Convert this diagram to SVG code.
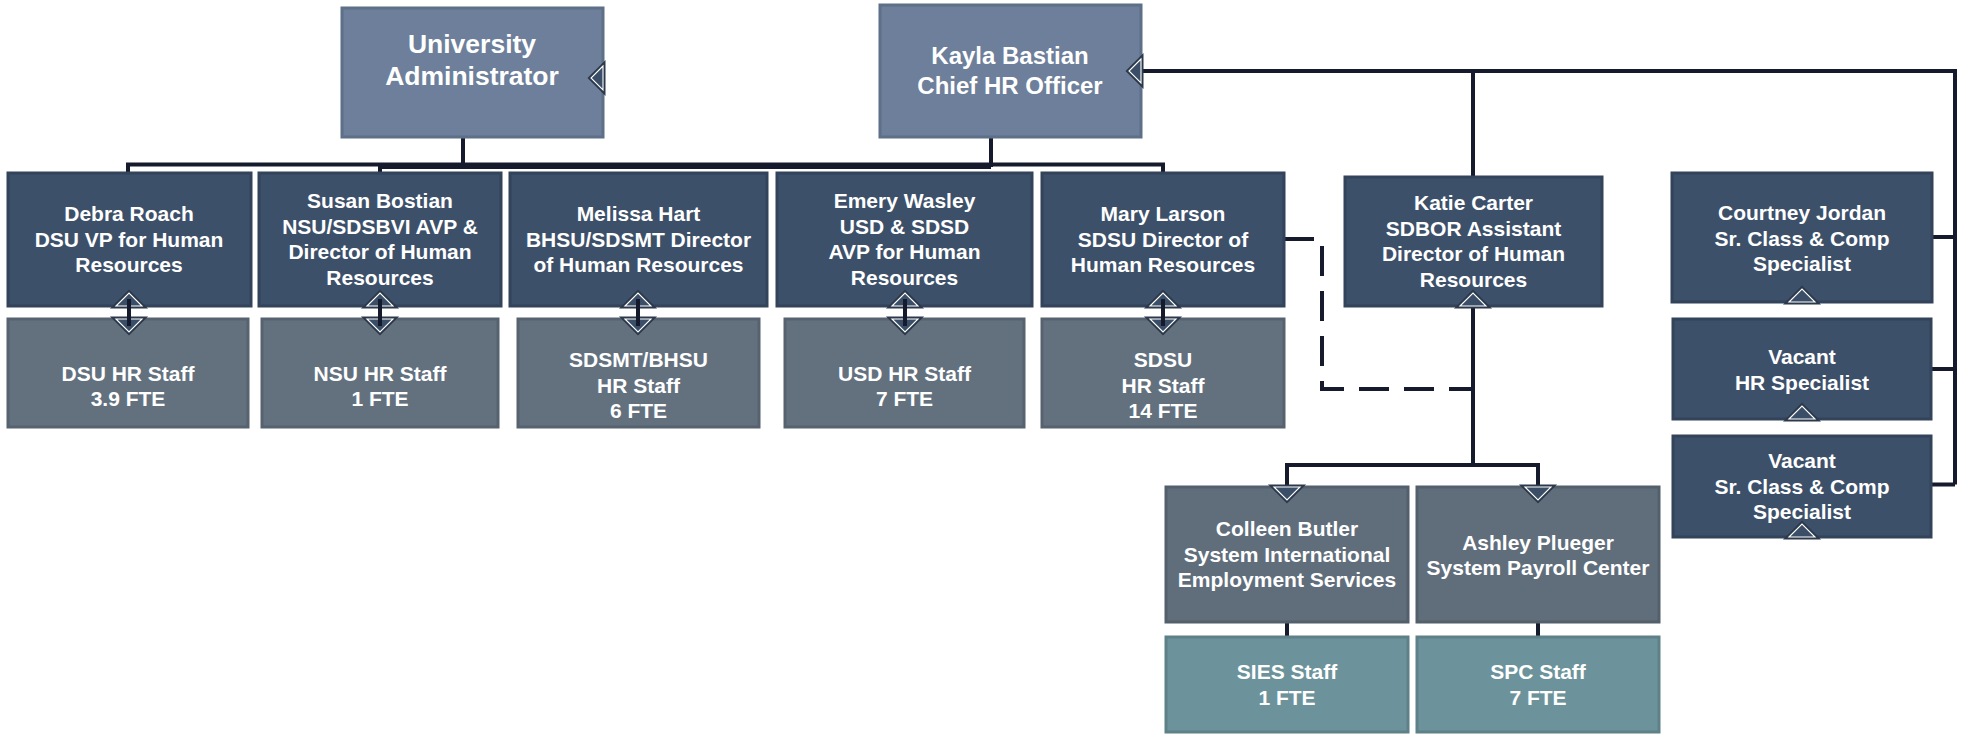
<svg xmlns="http://www.w3.org/2000/svg" width="1965" height="734" viewBox="0 0 1965 734">
<style>
.top{fill:#6D7F9A;stroke:#5E6F88;stroke-width:3}
.mid{fill:#3D506A;stroke:#33435A;stroke-width:3}
.staff{fill:#63717F;stroke:#56626F;stroke-width:3}
.sys{fill:#606E7C;stroke:#535F6B;stroke-width:3}
.teal{fill:#6C939B;stroke:#5E8088;stroke-width:3}
text{font-family:"Liberation Sans",Arial,sans-serif;font-weight:bold;fill:#FFFFFF;text-anchor:middle}
.t26{font-size:26.5px}
.t24{font-size:24px}
.t21{font-size:21px}
.ln{fill:none;stroke:#151B2C;stroke-width:4}
.dash{fill:none;stroke:#151B2C;stroke-width:4;stroke-dasharray:30 15}
.tri{fill:#3B4E68;stroke:#FFFFFF;stroke-width:1.1;stroke-linejoin:miter}
.halo{fill:#2C394C;stroke:#2C394C;stroke-width:5}
</style>
<defs>
<polygon id="up" points="-13,0 0,-13 13,0"/>
<polygon id="down" points="-13,0 0,13 13,0"/>
<polygon id="left" points="0,-12 -12,0 0,12"/>
</defs>

<g id="connectors">
<path class="ln" d="M463,137 V164.5 M128,173 V164.5 H1163 V173"/>
<path class="ln" d="M991,137 V167 M380,173 V167 H991"/>
<path class="ln" d="M1141,71 H1955 V484.5 M1473,71 V177 M1932,237 H1955 M1932,369 H1955 M1932,484.5 H1955"/>
<path class="ln" d="M1473,306 V465 M1287,487 V465 H1538 V487"/>
<path class="ln" d="M1287,622 V637 M1538,622 V637"/>
<path class="dash" d="M1284,239 H1322 V389 H1473"/>
</g>

<g id="univ-admin">
<rect class="top" x="342" y="8" width="261" height="129"/>
<use href="#left" x="603" y="78" class="halo"/>
<use href="#left" x="603" y="78" class="tri"/>
<text class="t26"><tspan x="472" y="53">University</tspan><tspan x="472" y="85">Administrator</tspan></text>
</g>

<g id="kayla-bastian">
<rect class="top" x="880" y="5" width="261" height="132"/>
<use href="#left" x="1141" y="71" class="halo"/>
<use href="#left" x="1141" y="71" class="tri"/>
<text class="t24"><tspan x="1010" y="64">Kayla Bastian</tspan><tspan x="1010" y="94">Chief HR Officer</tspan></text>
</g>

<g id="debra-roach">
<rect class="mid" x="8" y="173" width="243" height="133"/>
<use href="#up" x="129" y="306" class="halo"/><use href="#up" x="129" y="306" class="tri"/>
<text class="t21"><tspan x="129" y="221">Debra Roach</tspan><tspan x="129" y="246.5">DSU VP for Human</tspan><tspan x="129" y="272">Resources</tspan></text>
</g>

<g id="susan-bostian">
<rect class="mid" x="259" y="173" width="242" height="133"/>
<use href="#up" x="380" y="306" class="halo"/><use href="#up" x="380" y="306" class="tri"/>
<text class="t21"><tspan x="380" y="208">Susan Bostian</tspan><tspan x="380" y="233.5">NSU/SDSBVI AVP &amp;</tspan><tspan x="380" y="259">Director of Human</tspan><tspan x="380" y="284.5">Resources</tspan></text>
</g>

<g id="melissa-hart">
<rect class="mid" x="510" y="173" width="257" height="133"/>
<use href="#up" x="638" y="306" class="halo"/><use href="#up" x="638" y="306" class="tri"/>
<text class="t21"><tspan x="638.5" y="221">Melissa Hart</tspan><tspan x="638.5" y="246.5">BHSU/SDSMT Director</tspan><tspan x="638.5" y="272">of Human Resources</tspan></text>
</g>

<g id="emery-wasley">
<rect class="mid" x="777" y="173" width="255" height="133"/>
<use href="#up" x="905" y="306" class="halo"/><use href="#up" x="905" y="306" class="tri"/>
<text class="t21"><tspan x="904.5" y="208">Emery Wasley</tspan><tspan x="904.5" y="233.5">USD &amp; SDSD</tspan><tspan x="904.5" y="259">AVP for Human</tspan><tspan x="904.5" y="284.5">Resources</tspan></text>
</g>

<g id="mary-larson">
<rect class="mid" x="1042" y="173" width="242" height="133"/>
<use href="#up" x="1163" y="306" class="halo"/><use href="#up" x="1163" y="306" class="tri"/>
<text class="t21"><tspan x="1163" y="221">Mary Larson</tspan><tspan x="1163" y="246.5">SDSU Director of</tspan><tspan x="1163" y="272">Human Resources</tspan></text>
</g>

<g id="dsu-staff">
<rect class="staff" x="8" y="319" width="240" height="108"/>
<use href="#down" x="129" y="319" class="halo"/><use href="#down" x="129" y="319" class="tri"/>
<text class="t21"><tspan x="128" y="380.5">DSU HR Staff</tspan><tspan x="128" y="406">3.9 FTE</tspan></text>
</g>

<g id="nsu-staff">
<rect class="staff" x="262" y="319" width="236" height="108"/>
<use href="#down" x="380" y="319" class="halo"/><use href="#down" x="380" y="319" class="tri"/>
<text class="t21"><tspan x="380" y="380.5">NSU HR Staff</tspan><tspan x="380" y="406">1 FTE</tspan></text>
</g>

<g id="sdsmt-staff">
<rect class="staff" x="518" y="319" width="241" height="108"/>
<use href="#down" x="638" y="319" class="halo"/><use href="#down" x="638" y="319" class="tri"/>
<text class="t21"><tspan x="638.5" y="367">SDSMT/BHSU</tspan><tspan x="638.5" y="392.5">HR Staff</tspan><tspan x="638.5" y="418">6 FTE</tspan></text>
</g>

<g id="usd-staff">
<rect class="staff" x="785" y="319" width="239" height="108"/>
<use href="#down" x="905" y="319" class="halo"/><use href="#down" x="905" y="319" class="tri"/>
<text class="t21"><tspan x="904.5" y="380.5">USD HR Staff</tspan><tspan x="904.5" y="406">7 FTE</tspan></text>
</g>

<g id="sdsu-staff">
<rect class="staff" x="1042" y="319" width="242" height="108"/>
<use href="#down" x="1163" y="319" class="halo"/><use href="#down" x="1163" y="319" class="tri"/>
<text class="t21"><tspan x="1163" y="367">SDSU</tspan><tspan x="1163" y="392.5">HR Staff</tspan><tspan x="1163" y="418">14 FTE</tspan></text>
</g>

<g id="staff-links">
<path class="ln" d="M129,299 V326 M380,299 V326 M638,299 V326 M905,299 V326 M1163,299 V326"/>
</g>

<g id="katie-carter">
<rect class="mid" x="1345" y="177" width="257" height="129"/>
<use href="#up" x="1473" y="306" class="halo"/><use href="#up" x="1473" y="306" class="tri"/>
<text class="t21"><tspan x="1473.5" y="210">Katie Carter</tspan><tspan x="1473.5" y="235.5">SDBOR Assistant</tspan><tspan x="1473.5" y="261">Director of Human</tspan><tspan x="1473.5" y="286.5">Resources</tspan></text>
</g>

<g id="courtney-jordan">
<rect class="mid" x="1672" y="173" width="260" height="129"/>
<use href="#up" x="1802" y="302" class="halo"/><use href="#up" x="1802" y="302" class="tri"/>
<text class="t21"><tspan x="1802" y="220">Courtney Jordan</tspan><tspan x="1802" y="245.5">Sr. Class &amp; Comp</tspan><tspan x="1802" y="271">Specialist</tspan></text>
</g>

<g id="vacant-hr">
<rect class="mid" x="1673" y="319" width="258" height="100"/>
<use href="#up" x="1802" y="419" class="halo"/><use href="#up" x="1802" y="419" class="tri"/>
<text class="t21"><tspan x="1802" y="364">Vacant</tspan><tspan x="1802" y="389.5">HR Specialist</tspan></text>
</g>

<g id="vacant-sr">
<rect class="mid" x="1673" y="436" width="258" height="101"/>
<use href="#up" x="1802" y="537" class="halo"/><use href="#up" x="1802" y="537" class="tri"/>
<text class="t21"><tspan x="1802" y="468">Vacant</tspan><tspan x="1802" y="493.5">Sr. Class &amp; Comp</tspan><tspan x="1802" y="519">Specialist</tspan></text>
</g>

<g id="colleen-butler">
<rect class="sys" x="1166" y="487" width="242" height="135"/>
<use href="#down" x="1287" y="487" class="halo"/><use href="#down" x="1287" y="487" class="tri"/>
<text class="t21"><tspan x="1287" y="536">Colleen Butler</tspan><tspan x="1287" y="561.5">System International</tspan><tspan x="1287" y="587">Employment Services</tspan></text>
</g>

<g id="ashley-plueger">
<rect class="sys" x="1417" y="487" width="242" height="135"/>
<use href="#down" x="1538" y="487" class="halo"/><use href="#down" x="1538" y="487" class="tri"/>
<text class="t21"><tspan x="1538" y="549.5">Ashley Plueger</tspan><tspan x="1538" y="575">System Payroll Center</tspan></text>
</g>

<g id="sies-staff">
<rect class="teal" x="1166" y="637" width="242" height="95"/>
<text class="t21"><tspan x="1287" y="679">SIES Staff</tspan><tspan x="1287" y="704.5">1 FTE</tspan></text>
</g>

<g id="spc-staff">
<rect class="teal" x="1417" y="637" width="242" height="95"/>
<text class="t21"><tspan x="1538" y="679">SPC Staff</tspan><tspan x="1538" y="704.5">7 FTE</tspan></text>
</g>
</svg>
